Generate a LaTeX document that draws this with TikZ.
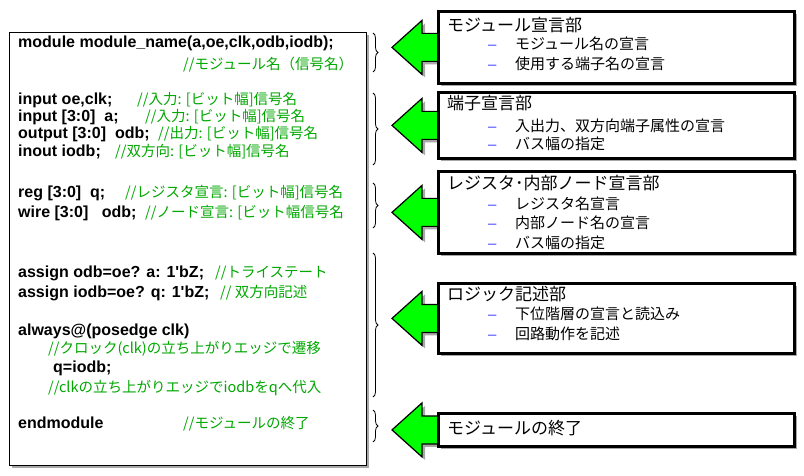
\documentclass[tikz,border=0pt]{standalone}
\usepackage{fontspec}
\setmainfont{Liberation Sans}
\newfontfamily\jpfont{Noto Sans CJK JP}
\usepackage{xcolor}
\usepackage{tikz}
\usetikzlibrary{positioning, calc, shadows, backgrounds, decorations.pathreplacing}
\definecolor{cmtgreen}{HTML}{00A800}
\definecolor{arrowgreen}{HTML}{00FF00}
\definecolor{dashblue}{HTML}{4848FF}
\definecolor{shadowgray}{HTML}{A8A8A8}

\tikzset{
  code/.style={anchor=base west, inner sep=0pt, font=\fontsize{16}{18}\selectfont\bfseries},
  cmt/.style={anchor=base west, inner sep=0pt, text=cmtgreen, font=\jpfont\fontsize{14.5}{18}\selectfont},
  head/.style={anchor=base west, inner sep=0pt, font=\jpfont\fontsize{17}{20}\selectfont},
  item/.style={anchor=base west, inner sep=0pt, font=\jpfont\fontsize{15}{18}\selectfont},
  itemdash/.style={anchor=base west, inner sep=0pt, text=dashblue, font=\fontsize{15}{18}\selectfont},
  grayshadow/.style={general shadow={fill=shadowgray, shadow xshift=3pt, shadow yshift=-3pt}},
  partbox/.style={draw, line width=2.8pt, fill=white, anchor=north west, minimum width=356, inner sep=0pt, grayshadow},
  partarrow/.style={draw, line width=1.2pt, fill=arrowgreen, grayshadow},
  partbrace/.style={decorate, decoration={brace, amplitude=5pt}, line width=0.8pt}
}

\begin{document}
\begin{tikzpicture}[x=1pt, y=-1pt]
  \useasboundingbox (0,0) rectangle (804,476);

  % code listing
  \node[draw, line width=0.8pt, fill=white, anchor=north west, minimum width=357, minimum height=433, grayshadow] (listing) at (9,32) {};

  \node[code] (l1) at (18,48) {module module\_name(a,oe,clk,odb,iodb);};
  \node[cmt] (c1) at (183,70) {//モジュール名（信号名）};

  \node[code] (l2) at (18,105) {input oe,clk;};
  \node[cmt] (c2) at (137,105) {//入力: [ビット幅]信号名};
  \node[code] (l3) at (18,122) {input [3:0]\ \ a;};
  \node[cmt] (c3) at (145,122) {//入力: [ビット幅]信号名};
  \node[code] (l4) at (18,139) {output [3:0]\ \ odb;};
  \node[cmt] (c4) at (158,139) {//出力: [ビット幅]信号名};
  \node[code] (l5) at (18,157) {inout iodb;};
  \node[cmt] (c5) at (115,157) {//双方向: [ビット幅]信号名};

  \node[code] (l6) at (18,198) {reg [3:0]\ \ q;};
  \node[cmt] (c6) at (125,198) {//レジスタ宣言: [ビット幅]信号名};
  \node[code] (l7) at (18,218) {wire [3:0]\ \ \ odb;};
  \node[cmt] (c7) at (145,218) {//ノード宣言: [ビット幅信号名};

  \node[code] (l8) at (18,277) {assign odb=oe? a: 1\textquotesingle bZ;};
  \node[cmt] (c8) at (215,277) {//トライステート};
  \node[code] (l9) at (18,297) {assign iodb=oe? q: 1\textquotesingle bZ;};
  \node[cmt] (c9) at (220,297) {// 双方向記述};

  \node[code] (l10) at (18,335) {always@(posedge clk)};
  \node[cmt] (c10) at (48,353) {//クロック(clk)の立ち上がりエッジで遷移};
  \node[code] (l11) at (53,372) {q=iodb;};
  \node[cmt] (c11) at (48,392) {//clkの立ち上がりエッジでiodbをqへ代入};

  \node[code] (l12) at (18,428) {endmodule};
  \node[cmt] (c12) at (183,428) {//モジュールの終了};

  % braces
  \draw[partbrace] (373,33) -- (373,72);
  \draw[partbrace] (373,93) -- (373,165);
  \draw[partbrace] (373,183) -- (373,228);
  \draw[partbrace] (373,253) -- (373,397);
  \draw[partbrace] (373,410) -- (373,442);

  % part boxes
  \node[partbox, minimum height=72] (b1) at (437,10) {};
  \node[partbox, minimum height=66] (b2) at (437,91) {};
  \node[partbox, minimum height=82] (b3) at (437,170) {};
  \node[partbox, minimum height=70] (b4) at (437,282) {};
  \node[partbox, minimum height=33] (b5) at (437,412) {};

  % arrows behind the boxes
  \begin{pgfonlayer}{background}
    \foreach \b in {b1,b2,b3,b4,b5}
      \draw[partarrow] ($(\b.west)+(-45,0)$) -- ++(30,-27) -- ++(0,13) -- ++(19,0) -- ++(0,28) -- ++(-19,0) -- ++(0,13) -- cycle;
  \end{pgfonlayer}

  \node[head] (h1) at (447,32) {モジュール宣言部};
  \node[itemdash] (d11) at (488,50) {–};
  \node[item] (i11) at (515,50) {モジュール名の宣言};
  \node[itemdash] (d12) at (488,70) {–};
  \node[item] (i12) at (515,70) {使用する端子名の宣言};

  \node[head] (h2) at (447,110) {端子宣言部};
  \node[itemdash] (d21) at (488,132) {–};
  \node[item] (i21) at (515,132) {入出力、双方向端子属性の宣言};
  \node[itemdash] (d22) at (488,150) {–};
  \node[item] (i22) at (515,150) {バス幅の指定};

  \node[head] (h3) at (447,190) {レジスタ･内部ノード宣言部};
  \node[itemdash] (d31) at (488,210) {–};
  \node[item] (i31) at (515,210) {レジスタ名宣言};
  \node[itemdash] (d32) at (488,229) {–};
  \node[item] (i32) at (515,229) {内部ノード名の宣言};
  \node[itemdash] (d33) at (488,248) {–};
  \node[item] (i33) at (515,248) {バス幅の指定};

  \node[head] (h4) at (447,300) {ロジック記述部};
  \node[itemdash] (d41) at (488,319) {–};
  \node[item] (i41) at (515,319) {下位階層の宣言と読込み};
  \node[itemdash] (d42) at (488,339) {–};
  \node[item] (i42) at (515,339) {回路動作を記述};

  \node[head] (h5) at (447,434) {モジュールの終了};
\end{tikzpicture}
\end{document}
